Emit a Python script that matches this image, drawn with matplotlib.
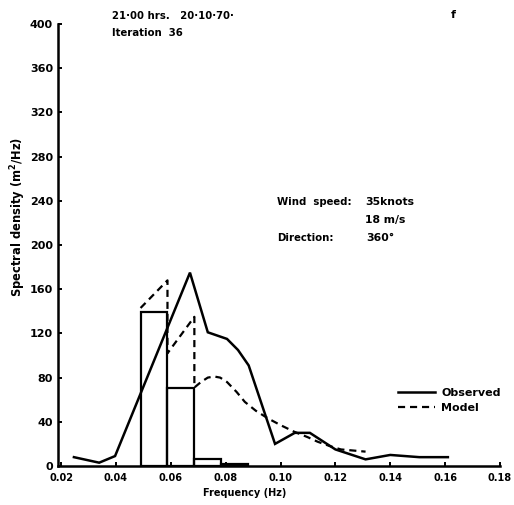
import matplotlib
matplotlib.use("Agg")
import matplotlib.pyplot as plt

# Observed spectrum (frequency in Hz, spectral density in m^2/Hz)
obs_freq = [0.0247, 0.0339, 0.0397, 0.0670, 0.0735, 0.0805, 0.0845, 0.0884,
            0.0980, 0.1052, 0.1107, 0.1200, 0.1310, 0.1400, 0.1506, 0.1610]
obs_dens = [8, 3, 9, 175, 121, 115, 105, 91, 20, 30, 30, 15, 6, 10, 8, 8]

# Model spectrum
model_freq = [0.0490, 0.0588, 0.0588, 0.0686, 0.0686, 0.0710, 0.0735, 0.0758,
              0.0780, 0.0805, 0.0840, 0.0870, 0.0910, 0.0955, 0.1000, 0.1050,
              0.1100, 0.1135, 0.1180, 0.1220, 0.1265, 0.1310]
model_dens = [143, 168, 102, 135, 71, 76, 80, 81, 80, 76, 67, 58, 50, 43, 37,
              31, 26, 22, 18, 15, 14, 13]

# Band energies drawn as open bars
bin_left = [0.0490, 0.0588, 0.0686, 0.0784]
bin_width = [0.0098, 0.0098, 0.0098, 0.0098]
bin_dens = [139, 71, 6, 1.5]

x_ticks = [0.02, 0.04, 0.06, 0.08, 0.10, 0.12, 0.14, 0.16, 0.18]
x_tick_labels = ["0.02", "0.04", "0.06", "0.08", "0.10", "0.12", "0.14", "0.16", "0.18"]
y_ticks = [0, 40, 80, 120, 160, 200, 240, 280, 320, 360, 400]

plt.rcParams["font.family"] = ["DejaVu Sans"]
plt.rcParams["font.weight"] = "bold"

W, H = 514, 505
fig = plt.figure(figsize=(W / 100, H / 100), dpi=100)
ax = fig.add_axes([58 / W, 1 - 466 / H, 442 / W, 442 / H])

ax.bar(bin_left, bin_dens, width=bin_width, align="edge", fill=False,
       edgecolor="black", linewidth=1.6)
obs_line, = ax.plot(obs_freq, obs_dens, color="black", linewidth=1.8,
                    solid_joinstyle="miter", label="Observed")
mod_line, = ax.plot(model_freq, model_dens, color="black", linewidth=1.6,
                    dashes=(3.2, 2.2), label="Model")

ax.set_xlim(0.0189, 0.18)
ax.set_ylim(0, 400)
ax.set_xticks(x_ticks)
ax.set_xticklabels(x_tick_labels)
ax.set_yticks(y_ticks)
for s in ("top", "right"):
    ax.spines[s].set_visible(False)
for s in ("left", "bottom"):
    ax.spines[s].set_linewidth(1.8)
ax.tick_params(direction="in", length=3, width=1.4)
ax.tick_params(axis="y", pad=3.6, labelsize=8)
ax.tick_params(axis="x", pad=5, labelsize=7)
for lab in ax.get_xticklabels() + ax.get_yticklabels():
    lab.set_fontweight("bold")

fig.text(245 / W, 1 - 493 / H, "Frequency (Hz)", ha="center", va="center",
         fontsize=7, fontweight="bold")
fig.text(18 / W, 1 - 217 / H, "Spectral density (m$^\\mathbf{2}$/Hz)",
         rotation=90, ha="center", va="center", fontsize=8.3, fontweight="bold")

fig.text(112 / W, 1 - 16 / H, "21·00 hrs.   20·10·70·", ha="left", va="center",
         fontsize=7.3, fontweight="bold")
fig.text(112 / W, 1 - 33 / H, "Iteration  36", ha="left", va="center",
         fontsize=7.3, fontweight="bold")
fig.text(453 / W, 1 - 15 / H, "f", ha="center", va="center",
         fontsize=8, fontweight="bold")

fig.text(277 / W, 1 - 202 / H, "Wind  speed:", ha="left", va="center",
         fontsize=7.3, fontweight="bold")
fig.text(365 / W, 1 - 202 / H, "35knots", ha="left", va="center",
         fontsize=7.8, fontweight="bold")
fig.text(365 / W, 1 - 220 / H, "18 m/s", ha="left", va="center",
         fontsize=7.8, fontweight="bold")
fig.text(277 / W, 1 - 238 / H, "Direction:", ha="left", va="center",
         fontsize=7.3, fontweight="bold")
fig.text(366 / W, 1 - 238 / H, "360°", ha="left", va="center",
         fontsize=7.8, fontweight="bold")

ax.legend(handles=[obs_line, mod_line], loc="upper left",
          bbox_to_anchor=(398 / W, 1 - 388 / H), bbox_transform=fig.transFigure,
          frameon=False, handlelength=3.3, handletextpad=0.6,
          labelspacing=0.45, borderpad=0, borderaxespad=0,
          prop={"weight": "bold", "size": 8})

fig.savefig("out.png", dpi=100)
